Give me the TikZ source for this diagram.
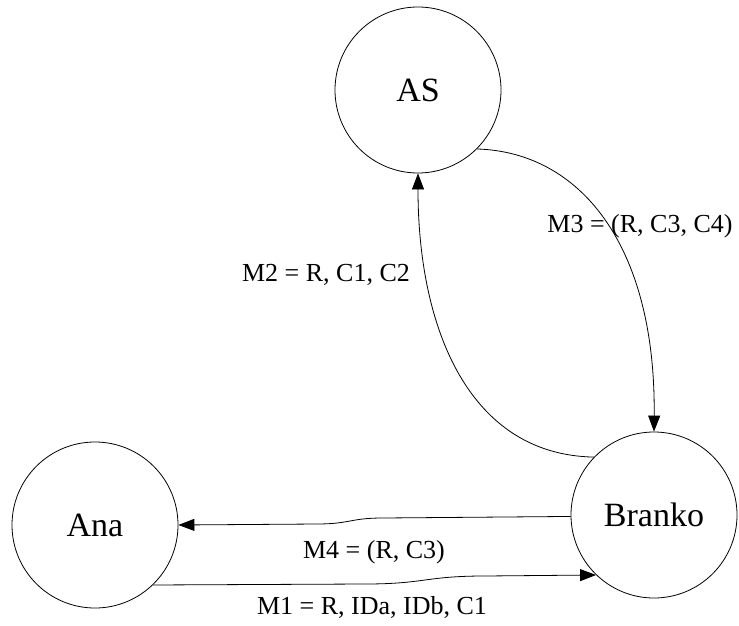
\documentclass[tikz,border=0pt]{standalone}
\usepackage{fontspec}
\setmainfont{Liberation Serif}
\usetikzlibrary{arrows.meta}
\begin{document}
\begin{tikzpicture}[x=1pt,y=-1pt,
  party/.style={circle,draw,line width=0.8pt,minimum size=166pt,inner sep=0pt,
    font=\fontsize{34}{40}\selectfont},
  msg/.style={line width=0.8pt,-{Triangle[length=16pt,width=12pt]}},
  msglabel/.style={anchor=base,inner sep=0pt,font=\fontsize{26}{30}\selectfont}]
  \useasboundingbox (0,0) rectangle (739,626);

  % participants
  \node[party] (AS) at (418,90) {AS};
  \node[party] (Ana) at (95,525) {Ana};
  \node[party] (Branko) at (654,515) {Branko};

  % messages
  \draw[msg] (Ana.314.5) -- (365,584) .. controls (425,584) and (425,576) .. (485,576) -- (Branko.226.5);
  \draw[msg] (Branko.181) -- (383,518) .. controls (350,518) and (350,524) .. (317,524) -- (Ana.0);
  \draw[msg] (Branko.136.4) .. controls (470,455) and (418,330) .. (AS.south);
  \draw[msg] (AS.315) .. controls (580,152) and (656,245) .. (Branko.north);

  % message labels
  \node[msglabel] (m1) at (372,614) {M1 = R, IDa, IDb, C1};
  \node[msglabel] (m4) at (374,558) {M4 = (R, C3)};
  \node[msglabel] (m2) at (326,281) {M2 = R, C1, C2};
  \node[msglabel] (m3) at (640,232) {M3 = (R, C3, C4)};
\end{tikzpicture}
\end{document}
